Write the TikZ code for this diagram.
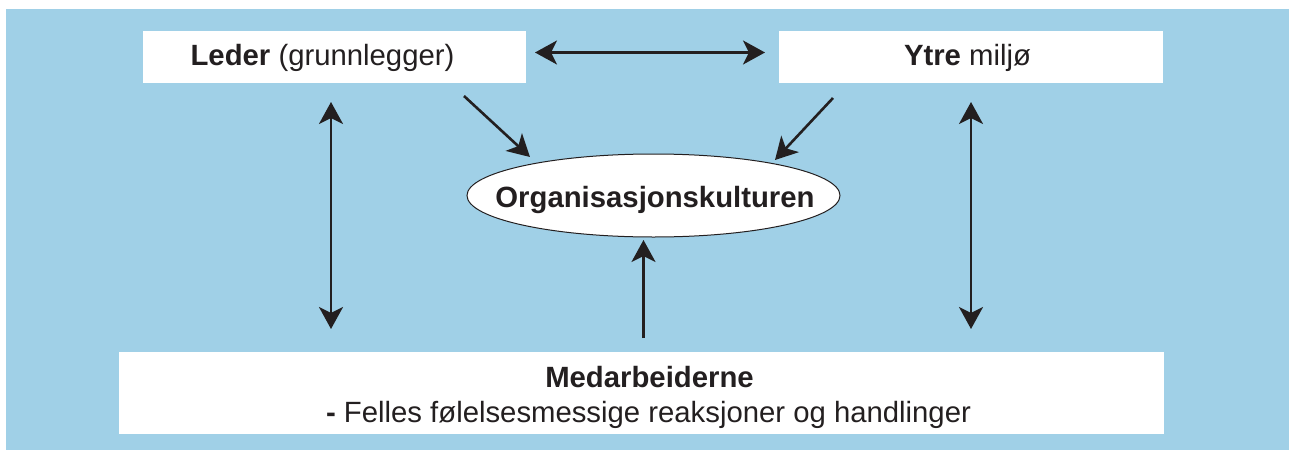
\documentclass[tikz,border=0pt]{standalone}
\usepackage{fontspec}
\setmainfont{Liberation Sans}
\usetikzlibrary{arrows.meta,shapes.geometric}
\definecolor{skyfill}{RGB}{160,208,231}
\definecolor{inkc}{RGB}{35,31,32}
\begin{document}
\begin{tikzpicture}[x=1pt,y=-1pt,
  box/.style={fill=white, draw=none, inner sep=0pt, anchor=north west},
  caption/.style={text=inkc, font=\fontsize{29.3}{35}\selectfont, inner sep=0pt, anchor=base},
  tipshape/.tip={Stealth[length=22pt,width=24pt,inset=6pt]},
  link/.style={draw=inkc, line width=2.6pt, -tipshape},
  twoway/.style={draw=inkc, line width=2.6pt, tipshape-tipshape}
]
\useasboundingbox (0,0) rectangle (1289,450);
% background panel
\fill[skyfill] (6,9) rectangle (1289,450);

% white boxes
\node[box, minimum width=383pt, minimum height=52pt] (leader) at (143,31) {};
\node[box, minimum width=384pt, minimum height=52pt] (ytre) at (779,31) {};
\node[box, minimum width=1045pt, minimum height=82pt] (staff) at (119,352) {};

% box texts
\node[caption] (leaderText) at (322.5,65) {\textbf{Leder} (grunnlegger)};
\node[caption] (ytreText) at (967.5,65) {\textbf{Ytre} miljø};
\node[caption] (staffTitle) at (649.5,387) {\textbf{Medarbeiderne}};
\node[caption] (staffLine) at (648.5,422) {\textbf{-} Felles følelsesmessige reaksjoner og handlinger};

% central ellipse and its label
\node[ellipse, draw=inkc, line width=1pt, fill=white,
      minimum width=373pt, minimum height=83pt, inner sep=0pt] (culture) at (653.5,195.5) {};
\node[caption] (cultureText) at (655,207.5) {\textbf{Organisasjonskulturen}};

% arrow end points
\coordinate (hL) at (535,52.5);
\coordinate (hR) at (765,52.5);
\coordinate (vLt) at (331,102);
\coordinate (vLb) at (331,329);
\coordinate (vRt) at (971,102);
\coordinate (vRb) at (971,329);
\coordinate (dLs) at (464,96);
\coordinate (dLe) at (530,157);
\coordinate (dRs) at (833,98);
\coordinate (dRe) at (775,160);
\coordinate (upS) at (643.5,338);
\coordinate (upE) at (643.5,240);

% connectors
\draw[twoway] (hL) -- (hR);
\draw[twoway] (vLt) -- (vLb);
\draw[twoway] (vRt) -- (vRb);
\draw[link] (dLs) -- (dLe);
\draw[link] (dRs) -- (dRe);
\draw[link] (upS) -- (upE);
\end{tikzpicture}
\end{document}
